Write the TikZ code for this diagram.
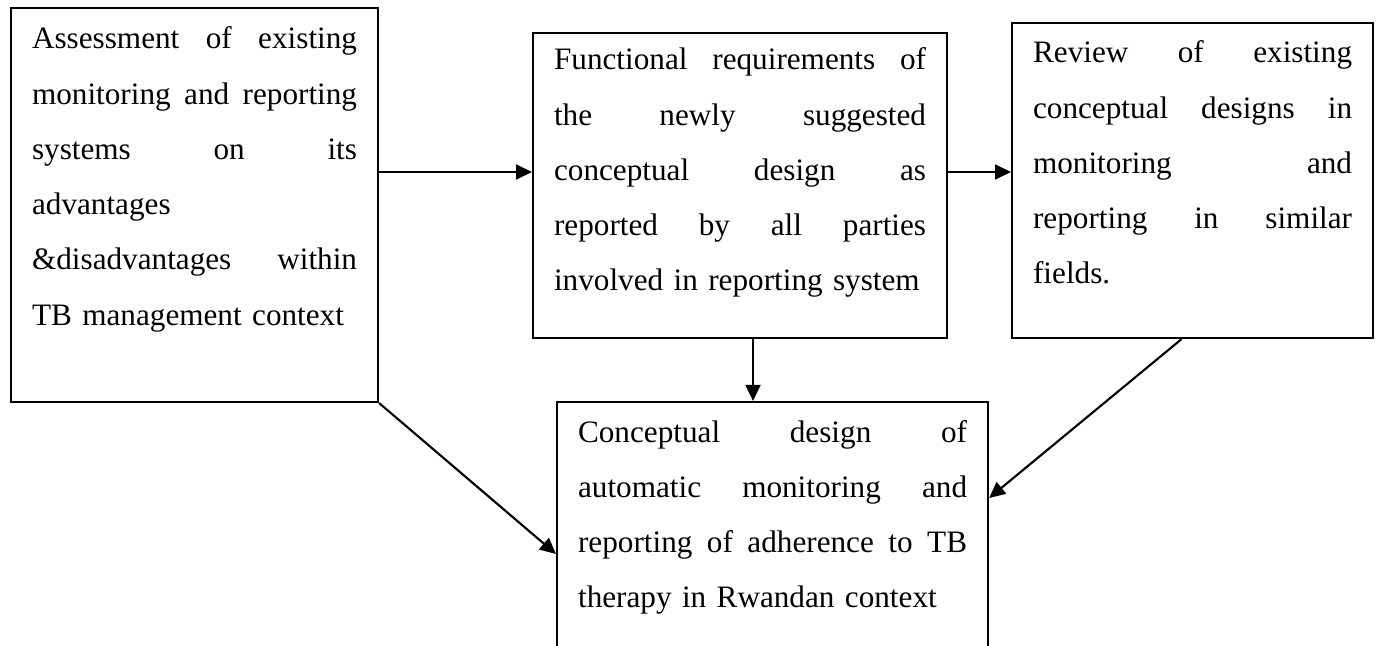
\documentclass[tikz,border=0pt]{standalone}
\usepackage{fontspec}
\setmainfont{Liberation Serif}
\usetikzlibrary{arrows.meta}
\newdimen\pxu
\pxu=0.375pt

\begin{document}
\begin{tikzpicture}[x=0.375pt,y=-0.375pt,
    stagebox/.style={draw,line width=0.8pt,anchor=base west,align=left,
        inner xsep=21\pxu,inner ysep=0pt,
        font=\fontsize{11.7pt}{20.7pt}\selectfont},
    arrow/.style={-{Triangle[length=6pt,width=5.6pt]},line width=0.8pt}
]
\useasboundingbox (0,0) rectangle (1379,645);
\node[stagebox,text width=325\pxu,text height=41\pxu,text depth=353\pxu] (assess) at (10,49)
    {Assessment\hfill of\hfill existing\\
     monitoring\hfill and\hfill reporting\\
     systems\hfill on\hfill its\\
     advantages\\
     \&disadvantages\hfill within\\
     \mbox{TB management context}};
\node[stagebox,text width=372\pxu,text height=37\pxu,text depth=268\pxu] (funcreq) at (532,70)
    {Functional\hfill requirements\hfill of\\
     the\hfill newly\hfill suggested\\
     conceptual\hfill design\hfill as\\
     reported\hfill by\hfill all\hfill parties\\
     \mbox{involved in reporting system}};
\node[stagebox,text width=319\pxu,text height=40\pxu,text depth=275\pxu] (review) at (1011,63)
    {Review\hfill of\hfill existing\\
     conceptual\hfill designs\hfill in\\
     monitoring\hfill and\\
     reporting\hfill in\hfill similar\\
     fields.};
\node[stagebox,text width=389\pxu,text height=40\pxu,text depth=264\pxu] (design) at (556,442)
    {Conceptual\hfill design\hfill of\\
     automatic\hfill monitoring\hfill and\\
     reporting\hfill of\hfill adherence\hfill to\hfill TB\\
     \mbox{therapy in Rwandan context}};
% flow between the stages
\coordinate (row) at (0,172);
\coordinate (col) at (753,0);
\draw[arrow] (assess.east |- row) -- (funcreq.west |- row);
\draw[arrow] (funcreq.east |- row) -- (review.west |- row);
\draw[arrow] (funcreq.south -| col) -- (design.north -| col);
\draw[arrow] (assess.south east) -- (design.west);
\draw[arrow] ([xshift=-11\pxu]review.south) -- ([yshift=56\pxu]design.east);
\end{tikzpicture}
\end{document}
